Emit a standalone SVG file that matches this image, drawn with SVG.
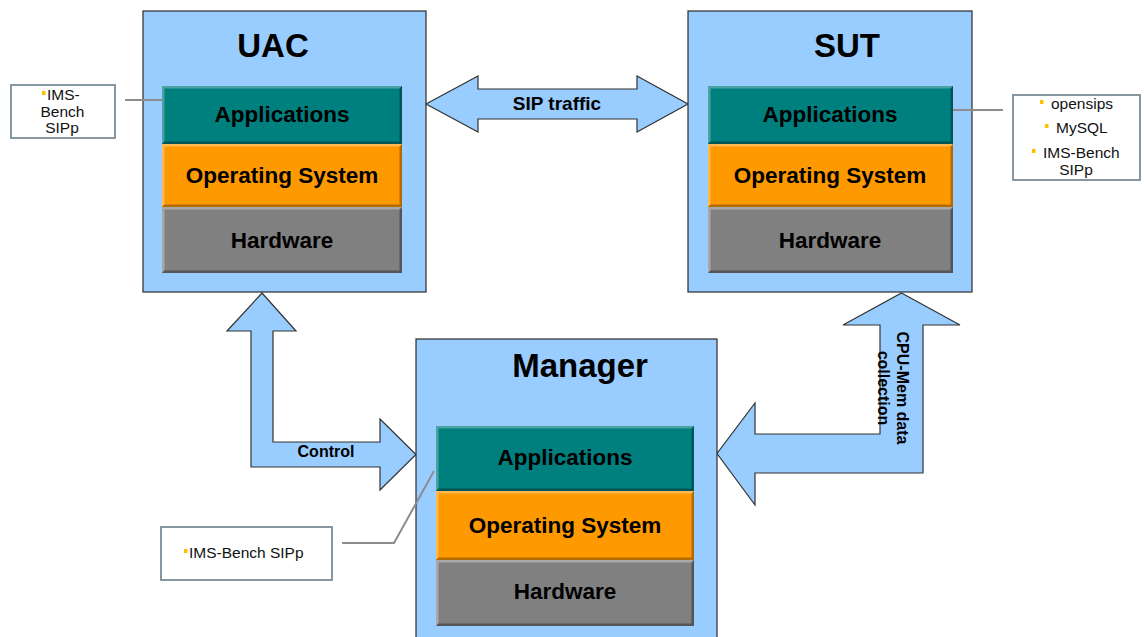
<svg xmlns="http://www.w3.org/2000/svg" width="1144" height="637" viewBox="0 0 1144 637">
  <style>
    text { font-family: "Liberation Sans", Arial, sans-serif; fill: #000; }
    .box { fill: #99CCFF; stroke: #2b2b2b; stroke-width: 1.2; }
    .title { font-size: 33px; font-weight: bold; text-anchor: middle; }
    .lbl { font-size: 22.5px; font-weight: bold; text-anchor: middle; }
    .arrow { fill: #99CCFF; stroke: #333; stroke-width: 1.2; stroke-linejoin: miter; }
    .alabel { font-weight: bold; text-anchor: middle; }
    .note { fill: #fff; stroke: #8797a2; stroke-width: 2; }
    .ntext { font-size: 15.5px; fill: #111; }
    .lead { fill: none; stroke: #8c8c8c; stroke-width: 2; }
    .bullet { fill: #FFC000; }
    .app { fill: #007F7F; } .app-hi { fill: #4aa3a3; } .app-lo { fill: #005555; }
    .os { fill: #FF9900; } .os-hi { fill: #ffb852; } .os-lo { fill: #b36b00; }
    .hw { fill: #808080; } .hw-hi { fill: #a8a8a8; } .hw-lo { fill: #555; }
  </style>

  <!-- connectors: block arrows between the machines -->
  <g id="connectors">
    <!-- SIP traffic double arrow -->
    <polygon class="arrow" points="426,104 478,76 478,89 637,89 637,76 688,104 637,132 637,119 478,119 478,132"/>
    <text class="alabel" x="557" y="110" font-size="19">SIP traffic</text>

    <!-- Control L-shaped arrow (UAC <-> Manager) -->
    <polygon class="arrow" points="262,293 296,331 273,331 273,442 380,442 380,419 416,454.5 380,490 380,467 251,467 251,331 227,331"/>
    <text class="alabel" x="326" y="457" font-size="16">Control</text>

    <!-- CPU-Mem data collection L-shaped arrow (SUT <-> Manager) -->
    <polygon class="arrow" points="901.5,293 960,325 923,325 923,473 755,473 755,505 717,453.5 755,403 755,434 880,434 880,325 843,325"/>
    <g transform="translate(897,388) rotate(90)">
      <text class="alabel" x="0" y="0" font-size="16">CPU-Mem data</text>
      <text class="alabel" x="0" y="19" font-size="16">collection</text>
    </g>
  </g>

  <!-- UAC -->
  <g id="uac">
    <rect class="box" x="143" y="11" width="283" height="281"/>
    <text class="title" x="273" y="57">UAC</text>
    <!-- Applications layer -->
    <rect class="app" x="162" y="86" width="240" height="58"/>
    <path class="app-hi" d="M162,86 H402 L400,88.5 H164.5 V141.5 L162,144 Z"/>
    <path class="app-lo" d="M402,86 V144 H162 L164.5,141.5 H399.5 V88.5 Z"/>
    <text class="lbl" x="282" y="122">Applications</text>
    <!-- Operating System layer -->
    <rect class="os" x="162" y="144" width="240" height="63"/>
    <path class="os-hi" d="M162,144 H402 L400,146.5 H164.5 V204.5 L162,207 Z"/>
    <path class="os-lo" d="M402,144 V207 H162 L164.5,204.5 H399.5 V146.5 Z"/>
    <text class="lbl" x="282" y="183">Operating System</text>
    <!-- Hardware layer -->
    <rect class="hw" x="162" y="207" width="240" height="66"/>
    <path class="hw-hi" d="M162,207 H402 L400,209.5 H164.5 V270.5 L162,273 Z"/>
    <path class="hw-lo" d="M402,207 V273 H162 L164.5,270.5 H399.5 V209.5 Z"/>
    <text class="lbl" x="282" y="248">Hardware</text>
  </g>

  <!-- SUT -->
  <g id="sut">
    <rect class="box" x="688" y="11" width="284" height="281"/>
    <text class="title" x="847" y="57">SUT</text>
    <rect class="app" x="708" y="86" width="245" height="58"/>
    <path class="app-hi" d="M708,86 H953 L951,88.5 H710.5 V141.5 L708,144 Z"/>
    <path class="app-lo" d="M953,86 V144 H708 L710.5,141.5 H950.5 V88.5 Z"/>
    <text class="lbl" x="830" y="122">Applications</text>
    <rect class="os" x="708" y="144" width="245" height="63"/>
    <path class="os-hi" d="M708,144 H953 L951,146.5 H710.5 V204.5 L708,207 Z"/>
    <path class="os-lo" d="M953,144 V207 H708 L710.5,204.5 H950.5 V146.5 Z"/>
    <text class="lbl" x="830" y="183">Operating System</text>
    <rect class="hw" x="708" y="207" width="245" height="66"/>
    <path class="hw-hi" d="M708,207 H953 L951,209.5 H710.5 V270.5 L708,273 Z"/>
    <path class="hw-lo" d="M953,207 V273 H708 L710.5,270.5 H950.5 V209.5 Z"/>
    <text class="lbl" x="830" y="248">Hardware</text>
  </g>

  <!-- Manager -->
  <g id="manager">
    <rect class="box" x="416" y="339" width="301" height="310"/>
    <text class="title" x="580" y="377">Manager</text>
    <rect class="app" x="436" y="426" width="258" height="65"/>
    <path class="app-hi" d="M436,426 H694 L692,428.5 H438.5 V488.5 L436,491 Z"/>
    <path class="app-lo" d="M694,426 V491 H436 L438.5,488.5 H691.5 V428.5 Z"/>
    <text class="lbl" x="565" y="465">Applications</text>
    <rect class="os" x="436" y="491" width="258" height="69"/>
    <path class="os-hi" d="M436,491 H694 L692,493.5 H438.5 V557.5 L436,560 Z"/>
    <path class="os-lo" d="M694,491 V560 H436 L438.5,557.5 H691.5 V493.5 Z"/>
    <text class="lbl" x="565" y="533">Operating System</text>
    <rect class="hw" x="436" y="560" width="258" height="66"/>
    <path class="hw-hi" d="M436,560 H694 L692,562.5 H438.5 V623.5 L436,626 Z"/>
    <path class="hw-lo" d="M694,560 V626 H436 L438.5,623.5 H691.5 V562.5 Z"/>
    <text class="lbl" x="565" y="599">Hardware</text>
  </g>

  <!-- leader lines from the application layers to their notes -->
  <g id="leaders">
    <polyline class="lead" points="125,100 162,100"/>
    <polyline class="lead" points="953,110 1003,110"/>
    <polyline class="lead" points="342,543 394,543 434,471"/>
  </g>

  <!-- note: UAC applications -->
  <g id="note-uac">
    <rect class="note" x="11" y="85" width="104" height="53"/>
    <rect class="bullet" x="42" y="91" width="3.5" height="4"/>
    <text class="ntext" x="47" y="100">IMS-</text>
    <text class="ntext" x="62.5" y="117" text-anchor="middle">Bench</text>
    <text class="ntext" x="62" y="133" text-anchor="middle">SIPp</text>
  </g>

  <!-- note: SUT applications -->
  <g id="note-sut">
    <rect class="note" x="1013" y="95" width="127" height="85"/>
    <rect class="bullet" x="1040" y="100" width="3.5" height="4"/>
    <text class="ntext" x="1051" y="109">opensips</text>
    <rect class="bullet" x="1045" y="124" width="3.5" height="4"/>
    <text class="ntext" x="1056" y="133">MySQL</text>
    <rect class="bullet" x="1032" y="149" width="3.5" height="4"/>
    <text class="ntext" x="1043" y="158">IMS-Bench</text>
    <text class="ntext" x="1076" y="175" text-anchor="middle">SIPp</text>
  </g>

  <!-- note: Manager applications -->
  <g id="note-manager">
    <rect class="note" x="161" y="527" width="171" height="53"/>
    <rect class="bullet" x="184" y="549" width="3.5" height="4"/>
    <text class="ntext" x="189" y="558">IMS-Bench SIPp</text>
  </g>
</svg>
